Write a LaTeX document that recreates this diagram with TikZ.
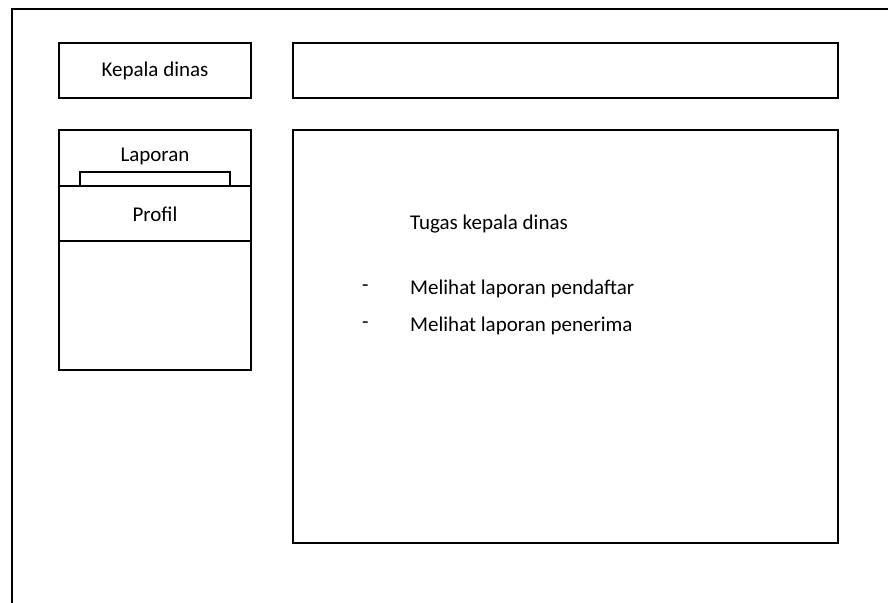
\documentclass[tikz,border=0pt]{standalone}
\usepackage{fontspec}
\setmainfont{Carlito}
\begin{document}
\begin{tikzpicture}[x=1pt,y=-1pt,
  txt/.style={font=\fontsize{21}{25}\selectfont},
  panel/.style={draw=black,line width=2pt,fill=white,inner sep=0pt,outer sep=0pt,
    rectangle,anchor=north west,txt},
  label/.style={txt,inner sep=0pt,anchor=west}]
\useasboundingbox (0,0) rectangle (888,602);
% outer page frame, open on the right and bottom
\draw[line width=2pt] (12,610) -- (12,9) -- (895,9);
% header row
\node[panel,minimum width=192pt,minimum height=55pt] (title) at (59,43) {Kepala dinas};
\node[panel,minimum width=545pt,minimum height=55pt] (header) at (293,43) {};
% side menu
\node[panel,minimum width=192pt,minimum height=240pt] (menu) at (59,130) {};
\node[txt,inner sep=0pt] (laporan) at (155,156) {Laporan};
\node[panel,minimum width=150pt,minimum height=16pt] (tab) at (80,172) {};
\node[panel,minimum width=192pt,minimum height=55pt] (profil) at (59,186) {};
\node[txt,inner sep=0pt] (profiltext) at (155,214) {Profil};
% content area
\node[panel,minimum width=545pt,minimum height=413pt] (content) at (293,130) {};
\node[label] (tugas) at (410,224) {Tugas kepala dinas};
\node[label] (dash1) at (362,288) {-};
\node[label] (item1) at (410,289) {Melihat laporan pendaftar};
\node[label] (dash2) at (362,325) {-};
\node[label] (item2) at (410,326) {Melihat laporan penerima};
\end{tikzpicture}
\end{document}
